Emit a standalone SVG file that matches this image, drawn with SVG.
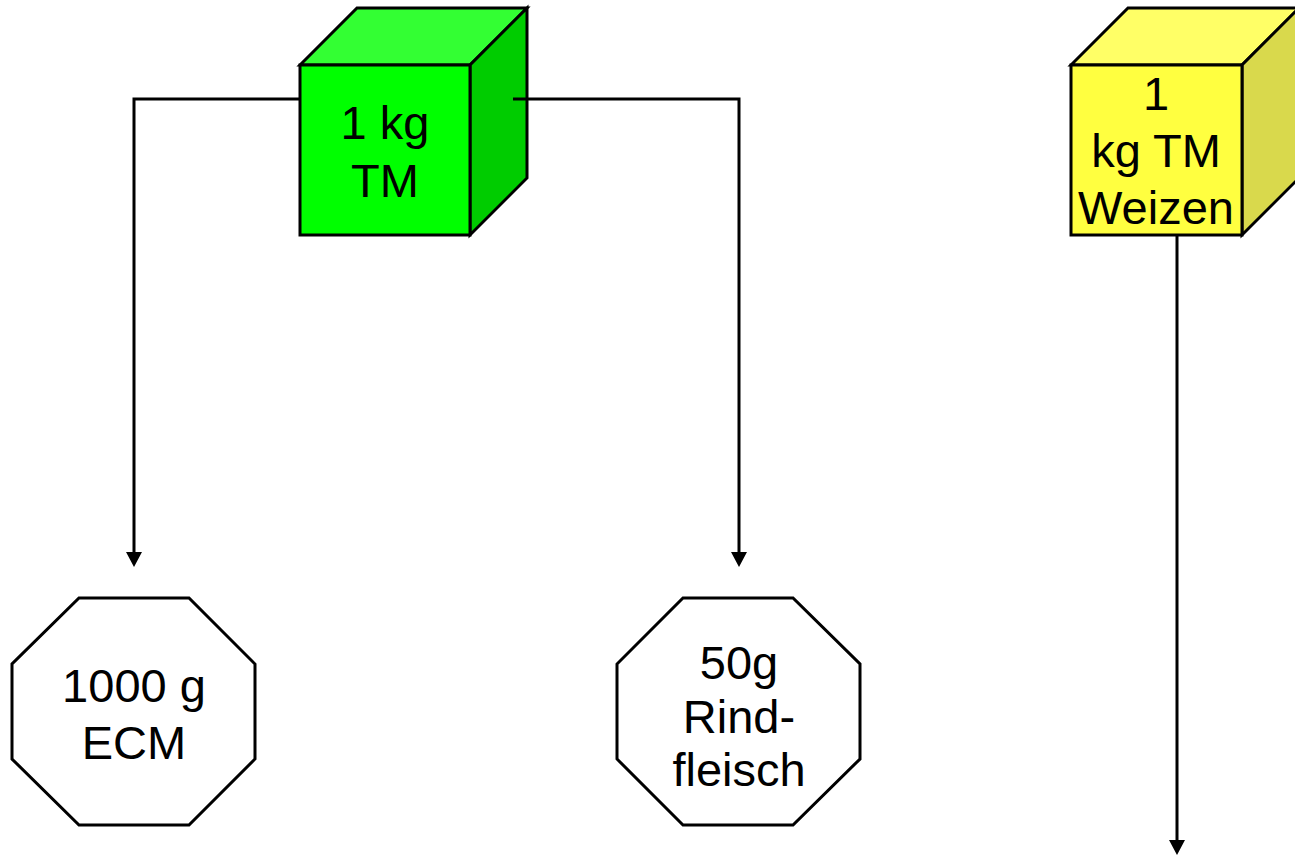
<svg xmlns="http://www.w3.org/2000/svg" width="1295" height="855" viewBox="0 0 1295 855">
  <defs>
    <!-- arrowhead: 16 px wide, 15 px long, tip at origin pointing down -->
    <path id="head" d="M-8,-15 L8,-15 L0,0 Z" fill="#000"/>
    <style>
      .edge { fill: none; stroke: #000; stroke-width: 3; }
      .shape { stroke: #000; stroke-width: 3; stroke-linejoin: miter; }
      .label { font-family: "Liberation Sans", Arial, sans-serif; font-size: 47px; fill: #000; text-anchor: middle; }
    </style>
  </defs>
  <rect width="1295" height="855" fill="#fff"/>

  <!-- green cube: 1 kg TM -->
  <g id="cube-tm">
    <polygon class="shape" fill="#33FF33" points="300,65 357,8 527,8 470,65"/>
    <polygon class="shape" fill="#00CC00" points="470,65 527,8 527,178 470,235"/>
    <rect class="shape" fill="#00FF00" x="300" y="65" width="170" height="170"/>
    <text class="label" x="385" y="139">1 kg</text>
    <text class="label" x="385" y="197">TM</text>
  </g>

  <!-- yellow cube: 1 kg TM Weizen -->
  <g id="cube-weizen">
    <polygon class="shape" fill="#FFFF66" points="1071,65 1128,8 1299,8 1242,65"/>
    <polygon class="shape" fill="#D9D94C" points="1242,65 1299,8 1299,178 1242,235"/>
    <rect class="shape" fill="#FFFF40" x="1071" y="65" width="171" height="170"/>
    <text class="label" x="1156" y="110">1</text>
    <text class="label" x="1156" y="167">kg TM</text>
    <text class="label" x="1156" y="224">Weizen</text>
  </g>

  <!-- octagon: 1000 g ECM -->
  <g id="oct-ecm">
    <polygon class="shape" fill="#fff" points="79,598 189,598 255,664 255,759 189,825 79,825 12,759 12,664"/>
    <text class="label" x="134" y="702">1000 g</text>
    <text class="label" x="134" y="759">ECM</text>
  </g>

  <!-- octagon: 50g Rindfleisch -->
  <g id="oct-rind">
    <polygon class="shape" fill="#fff" points="683,598 793,598 860,664 860,759 793,825 683,825 617,759 617,664"/>
    <text class="label" x="739" y="679">50g</text>
    <text class="label" x="739" y="733">Rind-</text>
    <text class="label" x="739" y="786">fleisch</text>
  </g>

  <!-- connectors, drawn over the cubes -->
  <g id="connectors">
    <path class="edge" d="M300,99 H134 V555"/>
    <use href="#head" x="134" y="567"/>
    <path class="edge" d="M513,99 H739 V555"/>
    <use href="#head" x="739" y="567"/>
    <path class="edge" d="M1177,236 V842"/>
    <use href="#head" x="1177" y="855"/>
  </g>
</svg>
